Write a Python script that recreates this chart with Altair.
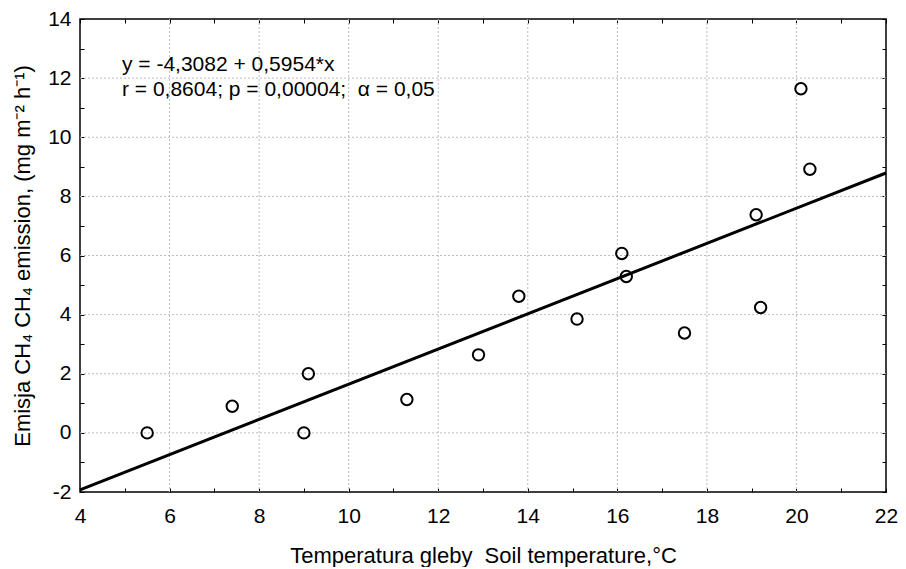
import altair as alt
import pandas as pd

# Data
soil_temp = [5.5, 7.4, 9.0, 9.1, 11.3, 12.9, 13.8, 15.1, 16.1, 16.2, 17.5, 19.1, 19.2, 20.1, 20.3]
ch4_emission = [0.0, 0.9, 0.0, 2.0, 1.13, 2.64, 4.62, 3.85, 6.07, 5.29, 3.38, 7.38, 4.24, 11.64, 8.92]

intercept = -4.3082
slope = 0.5954
line_x = [4, 22]

x_ticks = list(range(4, 23))
y_ticks = list(range(-2, 15))
x_grid = [6, 8, 10, 12, 14, 16, 18, 20]
y_grid = [0, 2, 4, 6, 8, 10, 12]

eq_lines = ["y = -4,3082 + 0,5954*x", "r = 0,8604; p = 0,00004;\u00a0 \u03b1 = 0,05"]

x_title = "Temperatura gleby\u00a0 Soil temperature,\u00b0C"
y_title = "Emisja CH\u2084 CH\u2084 emission, (mg m\u207b\u00b2 h\u207b\u00b9)"

FONT = "Liberation Sans"
FS = 21
TFS = 22

pts = pd.DataFrame({"t": soil_temp, "e": ch4_emission})
fit = pd.DataFrame({"t": line_x, "e": [intercept + slope * v for v in line_x]})
ann = pd.DataFrame({"txt": [eq_lines]})
gx = pd.DataFrame({"t": x_grid})
gy = pd.DataFrame({"e": y_grid})

xscale = alt.Scale(domain=[4, 22], nice=False, zero=False)
yscale = alt.Scale(domain=[-2, 14], nice=False, zero=False)

even_lab = "datum.value % 2 === 0 ? '' + datum.value : ''"

common = dict(
    offset=-4, tickSize=4, tickColor="black", tickWidth=1, domain=False, grid=False,
    labelFont=FONT, labelFontSize=FS, labelColor="black",
    labelFlush=False, labelOverlap=False, labelBound=False,
    titleFont=FONT, titleFontSize=TFS, titleFontWeight="normal", titleColor="black",
)

bottom_axis = alt.Axis(orient="bottom", values=x_ticks, labelExpr=even_lab,
                       labelPadding=13, title=x_title, titlePadding=19, **common)
left_axis = alt.Axis(orient="left", values=y_ticks, labelExpr=even_lab,
                     labelPadding=9, title=y_title, titlePadding=13, **common)
top_axis = alt.Axis(orient="top", values=x_ticks, labels=False, title=None, **common)
right_axis = alt.Axis(orient="right", values=y_ticks, labels=False, title=None, **common)

grid_style = dict(color="#bdbdbd", strokeDash=[2, 2], strokeWidth=1)

vgrid = alt.Chart(gx).mark_rule(**grid_style).encode(
    x=alt.X("t:Q", scale=xscale, axis=None)
)
hgrid = alt.Chart(gy).mark_rule(**grid_style).encode(
    y=alt.Y("e:Q", scale=yscale, axis=None)
)

points = alt.Chart(pts).mark_point(
    shape="circle", filled=False, color="black", strokeWidth=2, size=130, opacity=1
).encode(
    x=alt.X("t:Q", scale=xscale, axis=bottom_axis),
    y=alt.Y("e:Q", scale=yscale, axis=left_axis),
)

line = alt.Chart(fit).mark_line(color="black", strokeWidth=3).encode(
    x=alt.X("t:Q", scale=xscale, axis=top_axis),
    y=alt.Y("e:Q", scale=yscale, axis=right_axis),
)

text = alt.Chart(ann).mark_text(
    align="left", baseline="alphabetic", font=FONT, fontSize=FS, color="black", lineHeight=25
).encode(
    x=alt.value(42), y=alt.value(51.7), text="txt"
)

chart = alt.layer(vgrid, hgrid, points, line, text).resolve_axis(
    x="independent", y="independent"
).properties(
    width=806, height=473,
    autosize=alt.AutoSizeParams(type="none"),
    padding={"left": 72, "top": 11, "right": 12, "bottom": 75},
    background="white",
).configure_view(stroke="black", strokeWidth=1.5)

chart.save("out.html", embed_options={"renderer": "svg", "actions": False})
